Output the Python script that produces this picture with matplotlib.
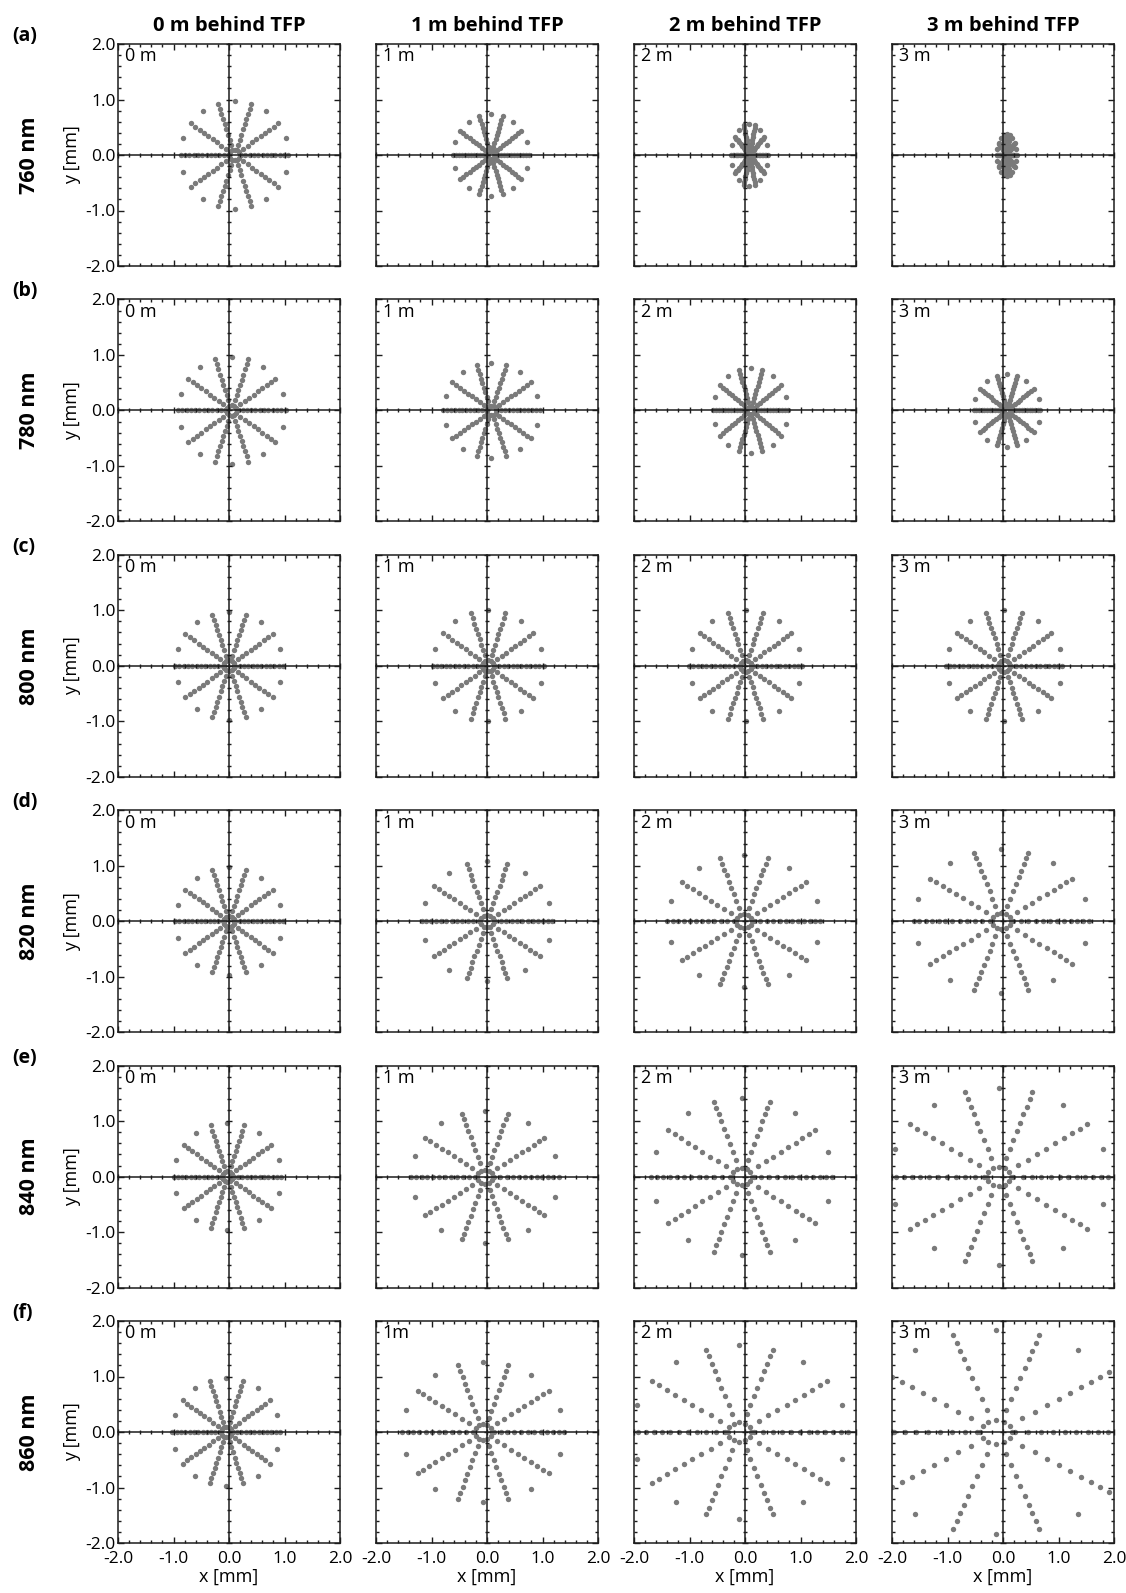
import matplotlib
matplotlib.use("Agg")
import matplotlib.pyplot as plt
import numpy as np
from matplotlib.ticker import MultipleLocator

plt.rcParams['font.family'] = ['Open Sans', 'DejaVu Sans']

# -----------------------------------------------------------------------------
# Labels
column_titles = ["0 m behind TFP", "1 m behind TFP", "2 m behind TFP", "3 m behind TFP"]
wavelengths = ["760 nm", "780 nm", "800 nm", "820 nm", "840 nm", "860 nm"]
row_tags = ["(a)", "(b)", "(c)", "(d)", "(e)", "(f)"]
panel_tags = [
    ["0 m", "1 m", "2 m", "3 m"],
    ["0 m", "1 m", "2 m", "3 m"],
    ["0 m", "1 m", "2 m", "3 m"],
    ["0 m", "1 m", "2 m", "3 m"],
    ["0 m", "1 m", "2 m", "3 m"],
    ["0 m", "1m", "2 m", "3 m"],
]
tick_values = [-2.0, -1.0, 0.0, 1.0, 2.0]
tick_labels = ["-2.0", "-1.0", "0.0", "1.0", "2.0"]

# -----------------------------------------------------------------------------
# Ray pattern in the input pupil (normalised radius, azimuth in degrees).
# Ten dense spokes, ten single marginal rays between them and an inner ring.
spoke_angles = [0, 36, 72, 108, 144, 180, 216, 252, 288, 324]
single_angles = [18, 54, 90, 126, 162, 198, 234, 270, 306, 342]
spoke_rho = [0.2, 0.3, 0.4, 0.5, 0.6, 0.7, 0.8, 0.9, 1.0]
axis_rho = [0.12, 0.2, 0.28, 0.36, 0.44, 0.52, 0.6, 0.68, 0.76, 0.84, 0.92, 1.0]
single_rho = 1.0
ring_angles = [0, 30, 60, 90, 120, 150, 180, 210, 240, 270, 300, 330]
ring_rho = 0.1

# Spot parameters per panel: rows = wavelength, columns = distance behind TFP.
# centre_x : x position of the spot centre [mm]
# scale_x, scale_y : image size of the marginal ray in x and y [mm]
# bend : radial compression towards the rim (0 = linear)
centre_x = [
    [0.10, 0.07, 0.08, 0.065],
    [0.05, 0.08, 0.10, 0.07],
    [0.00, 0.02, 0.01, 0.02],
    [0.00, 0.00, -0.02, -0.03],
    [-0.03, -0.04, -0.06, -0.08],
    [-0.05, -0.07, -0.10, -0.12],
]
scale_x = [
    [0.97, 0.68, 0.33, 0.18],
    [0.97, 0.87, 0.68, 0.60],
    [0.97, 1.00, 1.02, 1.05],
    [0.97, 1.18, 1.38, 1.58],
    [0.97, 1.33, 1.63, 1.97],
    [0.97, 1.46, 1.95, 2.50],
]
scale_y = [
    [0.97, 0.74, 0.56, 0.37],
    [0.97, 0.86, 0.77, 0.66],
    [0.97, 1.00, 1.00, 1.00],
    [0.97, 1.08, 1.19, 1.30],
    [0.97, 1.19, 1.42, 1.60],
    [0.97, 1.26, 1.56, 1.83],
]
bend = [
    [0.0, 0.0, 0.0, 0.0],
    [0.0, 0.0, 0.0, 0.0],
    [0.0, 0.0, 0.03, 0.05],
    [0.0, 0.05, 0.08, 0.10],
    [0.0, 0.06, 0.10, 0.10],
    [0.0, 0.08, 0.10, 0.15],
]


def spot_points(i, j):
    # Map the pupil rays of one panel onto the detector plane.
    rho, theta = [], []
    for a in spoke_angles:
        radii = axis_rho if a in (0, 180) else spoke_rho
        rho += radii
        theta += [a] * len(radii)
    rho += [single_rho] * len(single_angles)
    theta += single_angles
    rho += [ring_rho] * len(ring_angles)
    theta += ring_angles

    rho = np.array(rho)
    theta = np.radians(theta)
    k = bend[i][j]
    r = (1 + k) * rho - k * rho ** 3
    x = centre_x[i][j] + scale_x[i][j] * r * np.cos(theta)
    y = scale_y[i][j] * r * np.sin(theta)
    return x, y


# -----------------------------------------------------------------------------
# Figure layout in pixels
W, H = 1126, 1593
fig = plt.figure(figsize=(W / 100, H / 100), dpi=100)


def px_box(x0, y0, w, h):
    return [x0 / W, 1 - (y0 + h) / H, w / W, h / H]


size = 222
line_c = '#1c1c1c'

for i in range(6):
    for j in range(4):
        x0 = 118 + 258 * j
        y0 = 44 + 255.4 * i
        box = px_box(x0, y0, size, size)

        ax = fig.add_axes(box)
        xs, ys = spot_points(i, j)
        ax.scatter(xs, ys, s=15, c='#7a7a7a', linewidths=0, zorder=2)
        ax.set_xlim(-2, 2)
        ax.set_ylim(-2, 2)
        ax.set_xticks(tick_values)
        ax.set_yticks(tick_values)
        ax.set_xticklabels(tick_labels)
        ax.set_yticklabels(tick_labels)
        ax.xaxis.set_minor_locator(MultipleLocator(0.2))
        ax.yaxis.set_minor_locator(MultipleLocator(0.2))
        ax.tick_params(which='both', direction='in', top=True, right=True,
                       color=line_c, width=1.0, labelsize=12.5,
                       labelleft=(j == 0), labelbottom=(i == 5))
        ax.tick_params(axis='y', pad=1.5)
        ax.tick_params(axis='x', pad=6)
        ax.tick_params(which='major', length=4)
        ax.tick_params(which='minor', length=2.2)
        for sp in ax.spines.values():
            sp.set_linewidth(1.1)
            sp.set_color(line_c)
        if j == 0:
            ax.set_ylabel("y [mm]", fontsize=13, labelpad=3)
        if i == 5:
            ax.set_xlabel("x [mm]", fontsize=13, labelpad=0)
        ax.text(0.03, 0.985, panel_tags[i][j], transform=ax.transAxes,
                ha='left', va='top', fontsize=13)

        # crosshair through the origin with its own ticks
        cr = fig.add_axes(box)
        cr.set_xlim(-2, 2)
        cr.set_ylim(-2, 2)
        cr.patch.set_visible(False)
        cr.spines['left'].set_position('zero')
        cr.spines['bottom'].set_position('zero')
        cr.spines['top'].set_visible(False)
        cr.spines['right'].set_visible(False)
        for name in ('left', 'bottom'):
            cr.spines[name].set_linewidth(1.1)
            cr.spines[name].set_color(line_c)
        cr.xaxis.set_major_locator(MultipleLocator(1.0))
        cr.yaxis.set_major_locator(MultipleLocator(1.0))
        cr.xaxis.set_minor_locator(MultipleLocator(0.2))
        cr.yaxis.set_minor_locator(MultipleLocator(0.2))
        cr.tick_params(which='both', direction='inout', color=line_c, width=1.0,
                       labelleft=False, labelbottom=False, top=False, right=False)
        cr.tick_params(which='major', length=5)
        cr.tick_params(which='minor', length=3.5)

    # row labels
    yc = 44 + 255.4 * i + size / 2
    fig.text(12 / W, 1 - (26 + 255.4 * i) / H, row_tags[i], ha='left', va='top',
             fontsize=14, fontweight='bold')
    fig.text(30 / W, 1 - yc / H, wavelengths[i], ha='center', va='center',
             rotation=90, fontsize=15.5, fontweight='bold')

for j, title in enumerate(column_titles):
    xc = 118 + 258 * j + size / 2
    fig.text(xc / W, 1 - 31 / H, title, ha='center', va='baseline',
             fontsize=14.5, fontweight='bold')

fig.savefig("out.png", dpi=100)
